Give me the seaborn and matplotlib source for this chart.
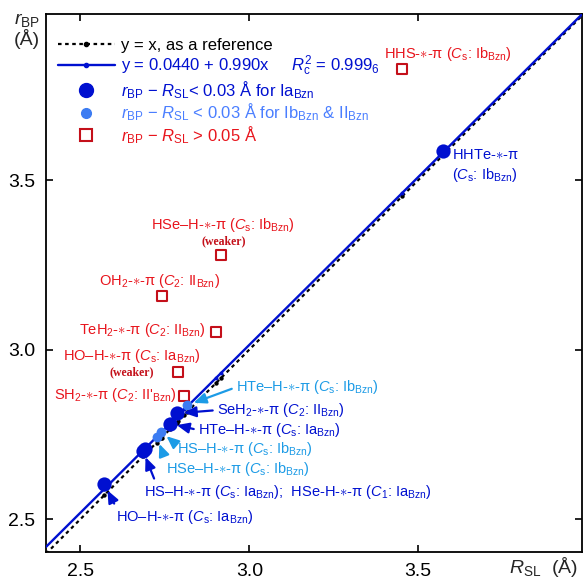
import numpy as np
import pandas as pd
import matplotlib
matplotlib.use('Agg')
import matplotlib.pyplot as plt
import seaborn as sns
from matplotlib.lines import Line2D

sns.set_style('ticks')
plt.rcParams['font.family'] = ['Liberation Sans', 'DejaVu Sans']
plt.rcParams['mathtext.fontset'] = 'custom'
plt.rcParams['mathtext.rm'] = 'Liberation Sans'
plt.rcParams['mathtext.it'] = 'Liberation Sans:italic'
plt.rcParams['mathtext.bf'] = 'Liberation Sans:bold'

# ---------------- data ----------------
# Ia_Bzn (large dark-blue dots): HHTe, SeH2, HTe-H, HS-H, HSe-H(C1), HO-H
ia_x = [3.574, 2.785, 2.765, 2.685, 2.690, 2.571]
ia_y = [3.586, 2.812, 2.782, 2.702, 2.706, 2.603]
# Ib_Bzn & II_Bzn (small light-blue dots): HTe-H, HS-H, HSe-H
ib_x = [2.816, 2.739, 2.726]
ib_y = [2.836, 2.758, 2.741]
# r_BP - R_SL > 0.05 (open red squares): HHS, HSe-H, OH2, TeH2, HO-H, SH2
far_x = [3.453, 2.917, 2.740, 2.902, 2.790, 2.808]
far_y = [3.827, 3.279, 3.158, 3.052, 2.934, 2.863]
fit_a, fit_b = 0.0440, 0.990
xlim = (2.398, 3.985)
ylim = (2.403, 3.990)
ticks = [2.5, 3.0, 3.5]
tick_labels = ['2.5', '3.0', '3.5']

DARK = '#0010D0'
LIGHT_M = '#3C7CF2'
LIGHT_T = '#1C9BE6'
LEG_LIGHT = '#4A7EFF'
RED_T = '#E8141C'
RED_M = '#C4101A'

fig = plt.figure(figsize=(5.85, 5.80), dpi=100)
ax = fig.add_axes([46/585, 1-552/580, 536/585, 538/580])

all_x = np.array(ia_x + ib_x + far_x)
line_x = np.array(xlim)

# reference y = x
sns.lineplot(x=line_x, y=line_x, ax=ax, color='black', lw=1.6,
             linestyle=(0, (1.6, 1.6)), zorder=2)
sns.scatterplot(x=all_x, y=all_x, ax=ax, color='black', s=10, linewidth=0, zorder=2)
# fit line
sns.lineplot(x=line_x, y=fit_a + fit_b*line_x, ax=ax, color=DARK, lw=1.7, zorder=3)
sns.scatterplot(x=all_x, y=fit_a + fit_b*all_x, ax=ax, color=DARK, s=8, linewidth=0, zorder=3)

sns.scatterplot(x=ia_x, y=ia_y, ax=ax, color=DARK, s=105, linewidth=0, zorder=5)
sns.scatterplot(x=ib_x, y=ib_y, ax=ax, color=LIGHT_M, s=50, linewidth=0, zorder=6)
sns.scatterplot(x=far_x, y=far_y, ax=ax, marker='s', s=60, facecolor='white',
                edgecolor=RED_M, linewidth=1.5, zorder=5)

ax.set_xlim(*xlim)
ax.set_ylim(*ylim)
ax.set_xticks(ticks)
ax.set_xticklabels(tick_labels)
ax.set_yticks(ticks)
ax.set_yticklabels(tick_labels)
ax.tick_params(direction='in', length=5, width=1.2, labelsize=14, top=True, right=True,
               colors='black', pad=8)
for s in ax.spines.values():
    s.set_linewidth(1.3)
    s.set_color('black')
ax.set_xlabel('')
ax.set_ylabel('')

# axis labels
fig.text(27/585, 1-30/580, r'$r_\mathrm{BP}$' + '\n(Å)', ha='center', va='center',
         fontsize=14, linespacing=1.0)
fig.text(578/585, 1-567/580, r'$R_\mathrm{SL}$  (Å)', ha='right', va='center', fontsize=14)

# legend
handles = [
    Line2D([], [], color='black', lw=1.6, linestyle=(0, (1.6, 1.6)), marker='o', ms=3),
    Line2D([], [], color=DARK, lw=1.7, marker='o', ms=3),
    Line2D([], [], color=DARK, lw=0, marker='o', ms=10),
    Line2D([], [], color=LIGHT_M, lw=0, marker='o', ms=7),
    Line2D([], [], color=RED_M, lw=0, marker='s', ms=8, mfc='white', mew=1.5),
]
labels = [
    'y = x, as a reference',
    r'y = 0.0440 + 0.990x     $R_\mathrm{c}^2$ = 0.999$_6$',
    r'$r_\mathrm{BP}$ − $R_\mathrm{SL}$< 0.03 Å for Ia$_\mathrm{Bzn}$',
    r'$r_\mathrm{BP}$ − $R_\mathrm{SL}$ < 0.03 Å for Ib$_\mathrm{Bzn}$ & II$_\mathrm{Bzn}$',
    r'$r_\mathrm{BP}$ − $R_\mathrm{SL}$ > 0.05 Å',
]
leg = ax.legend(handles, labels, loc='upper left', bbox_to_anchor=(0.01, 0.968),
                frameon=False, fontsize=12, handlelength=3.4, handletextpad=0.35,
                labelspacing=0.05, borderaxespad=0,
                labelcolor=['black', DARK, DARK, LEG_LIGHT, RED_T])


def px(xp, yp):
    return 2.5 + (xp - 81)/338, 2.5 + (519 - yp)/339

fs = 10.5
sub = r'$_\mathrm{Bzn}$'
st = r'-$\ast$-π'

# annotated labels with arrows
ann = [
    ('HTe–H' + st + r' ($C_\mathrm{s}$: Ib' + sub + ')', ib_x[0], ib_y[0], px(237, 387), LIGHT_T, (0, 0.5)),
    (r'SeH$_2$' + st + r' ($C_2$: II' + sub + ')', ia_x[1], ia_y[1], px(218, 410), DARK, (0, 0.5)),
    ('HTe–H' + st + r' ($C_\mathrm{s}$: Ia' + sub + ')', ia_x[2], ia_y[2], px(199, 430), DARK, (0, 0.5)),
    ('HS–H' + st + r' ($C_\mathrm{s}$: Ib' + sub + ')', ib_x[1], ib_y[1], px(178, 449), LIGHT_T, (0, 0.7)),
    ('HSe–H' + st + r' ($C_\mathrm{s}$: Ib' + sub + ')', ib_x[2], ib_y[2], px(167, 469), LIGHT_T, (0.0, 0.9)),
    ('HS–H' + st + r' ($C_\mathrm{s}$: Ia' + sub + ');  HSe-H' + st + r' ($C_1$: Ia' + sub + ')',
     ia_x[3], ia_y[3], px(145, 492), DARK, (0.04, 1.0)),
    ('HO–H' + st + r' ($C_\mathrm{s}$: Ia' + sub + ')', ia_x[5], ia_y[5], px(117, 517), DARK, (0.0, 1.0)),
]
for text, x0, y0, (tx, ty), col, rp in ann:
    ax.annotate(text, xy=(x0, y0), xytext=(tx, ty), ha='left', va='center',
                fontsize=fs, color=col, zorder=7,
                arrowprops=dict(arrowstyle='-|>,head_length=0.7,head_width=0.3',
                                color=col, lw=1.6, relpos=rp, shrinkA=1, shrinkB=5))

# red labels
red = [
    ('HHS' + st + r' ($C_\mathrm{s}$: Ib' + sub + ')', px(449, 54)),
    ('HSe–H' + st + r' ($C_\mathrm{s}$: Ib' + sub + ')', px(224, 225)),
    (r'OH$_2$' + st + r' ($C_2$: II' + sub + ')', px(160, 281)),
    (r'TeH$_2$' + st + r' ($C_2$: II' + sub + ')', px(143, 330)),
    ('HO–H' + st + r' ($C_\mathrm{s}$: Ia' + sub + ')', px(132, 356)),
    (r'SH$_2$' + st + r" ($C_2$: II$'_\mathrm{Bzn}$)", px(116, 395)),
]
for text, (tx, ty) in red:
    ax.text(tx, ty, text, ha='center', va='center', fontsize=fs, color=RED_T, zorder=7)
for (tx, ty) in [px(224, 241), px(132, 372)]:
    ax.text(tx, ty, '(weaker)', ha='center', va='center', fontsize=8.5, color=RED_M,
            family='Liberation Serif', weight='bold', zorder=7)

# HHTe label
tx, ty = px(453, 166)
ax.text(tx, ty, 'HHTe' + st + '\n' + r'($C_\mathrm{s}$: Ib' + sub + ')', ha='left', va='center',
        fontsize=fs, color=DARK, linespacing=1.25, zorder=7)

fig.savefig('out.png', dpi=100)
